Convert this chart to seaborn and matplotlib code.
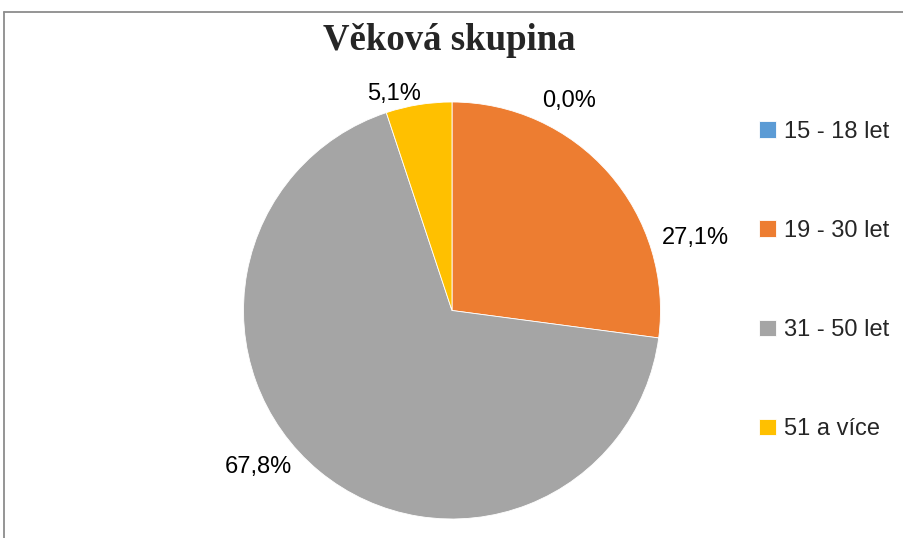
import matplotlib
matplotlib.use('Agg')
import matplotlib.pyplot as plt
import seaborn as sns
from matplotlib.lines import Line2D

categories = ['15 - 18 let', '19 - 30 let', '31 - 50 let', '51 a více']
values = [0.0, 27.1, 67.8, 5.1]
value_labels = ['0,0%', '27,1%', '67,8%', '5,1%']
colors = ['#5B9BD5', '#ED7D31', '#A5A5A5', '#FFC000']
title = 'Věková skupina'

# label positions (pixels from top-left) - layout only
label_pos = [(569, 101), (695, 238), (258, 467), (394, 94)]

sns.set_theme(style='white')
plt.rcParams['font.family'] = ['Liberation Sans', 'DejaVu Sans']

W, H = 904, 538
fig = plt.figure(figsize=(W / 100, H / 100), dpi=100)
fig.patch.set_facecolor('white')
ax = fig.add_axes([0, 0, 1, 1])

cx, cy, r = 452, 310.5, 208.5
wedges, _ = ax.pie(values, colors=colors, startangle=90, counterclock=False,
                   center=(cx, H - cy), radius=r,
                   wedgeprops=dict(edgecolor='white', linewidth=0.6))
ax.set_xlim(0, W)
ax.set_ylim(0, H)
ax.set_aspect('equal')
ax.axis('off')

for (x, y), lab in zip(label_pos, value_labels):
    ax.text(x, H - y, lab, ha='center', va='center', fontsize=17, color='#000000')

# frame lines (top and left)
fig.add_artist(Line2D([4 / W, 1], [1 - 12 / H, 1 - 12 / H], transform=fig.transFigure,
                      color='#8c8c8c', lw=1.3))
fig.add_artist(Line2D([4 / W, 4 / W], [0, 1 - 12 / H], transform=fig.transFigure,
                      color='#8c8c8c', lw=1.3))

fig.text(449.5 / W, 1 - 41 / H, title, ha='center', va='center',
         family=['Liberation Serif', 'DejaVu Serif'], weight='bold', fontsize=26.5)

leg = fig.legend(wedges, categories, loc='center left',
                 bbox_to_anchor=(759 / W, 1 - 280.5 / H), frameon=False,
                 fontsize=17, handlelength=0.7, handleheight=0.7,
                 handletextpad=0.35, labelspacing=3.27, borderpad=0,
                 borderaxespad=0)

fig.savefig('out.png', dpi=100)
